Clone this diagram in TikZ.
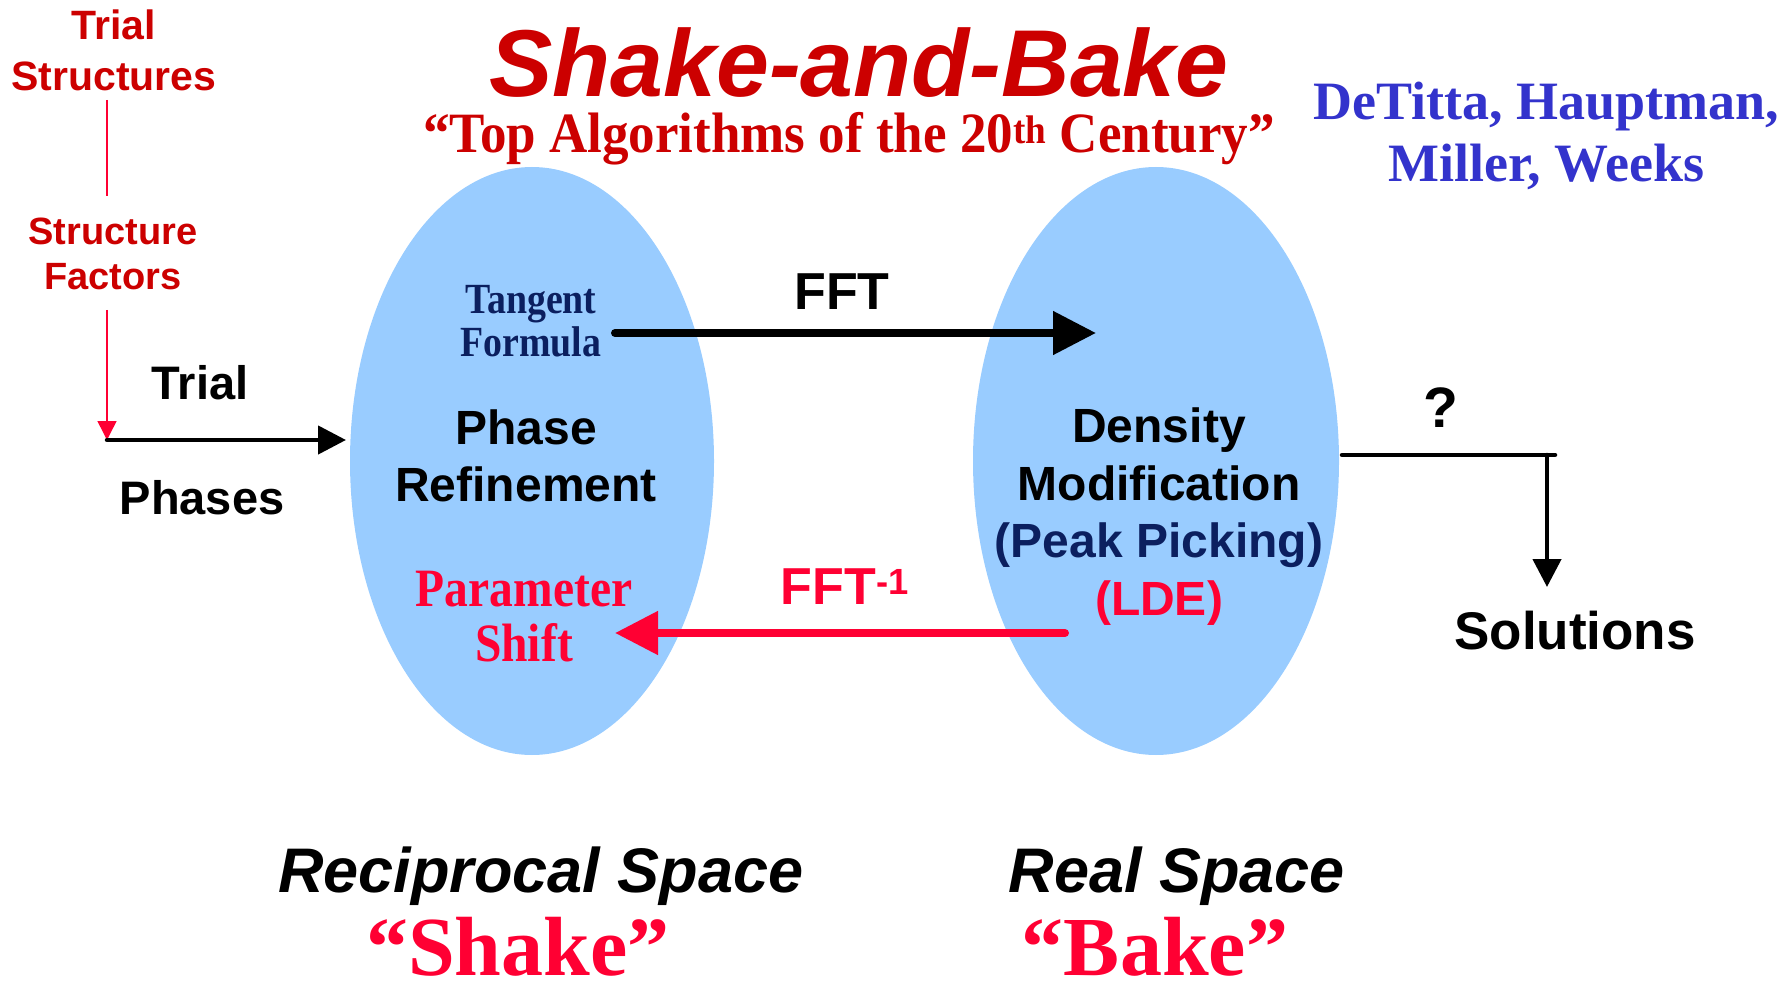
\documentclass[tikz,border=0pt]{standalone}
\usepackage{fontspec}
\setmainfont{Liberation Sans}
\newfontfamily\arialf{Liberation Sans}
\newfontfamily\tnrf{Liberation Serif}
\newfontfamily\tnrcf[FakeStretch=0.88]{Liberation Serif}
\newfontfamily\tnrsf[FakeStretch=0.93]{Liberation Serif}
\usetikzlibrary{shapes.geometric,arrows.meta}
\definecolor{titlered}{HTML}{CC0000}
\definecolor{brightred}{HTML}{FF0033}
\definecolor{authblue}{HTML}{3333CC}
\definecolor{navy}{HTML}{0B1F5F}
\definecolor{ellblue}{HTML}{99CCFF}
\newcommand\fsz[2]{\fontsize{#1}{#2}\selectfont}
\begin{document}
\begin{tikzpicture}[x=1pt,y=-1pt,
  lbl/.style={anchor=base,inner sep=0pt,align=center},
  blob/.style={ellipse,draw=none,fill=ellblue,minimum width=364pt,minimum height=588pt,inner sep=0pt},
  thinred/.style={draw=brightred,line width=1.5pt},
  thinarrow/.style={thinred,-{Triangle[length=19pt,width=19pt]}},
  blackarrow/.style={draw=black,line width=4.5pt,line cap=round,-{Triangle[length=28pt,width=28pt]}},
  bigarrow/.style={line width=8pt,line cap=round,-{Triangle[length=43pt,width=42pt]}}
]
\useasboundingbox (0,0) rectangle (1786,984);

% ellipses
\node[blob] (L) at (532,461) {};
\node[blob,minimum width=366pt] (R) at (1156,461) {};

% title
\node[lbl,text=titlered,text depth=0pt,font=\arialf\bfseries\itshape\fsz{95}{100}] (title) at (859,97) {Shake-and-Bake};
\node[lbl,text=titlered,font=\tnrsf\bfseries\fsz{57}{57}] (sub) at (849,153) {“Top Algorithms of the 20\textsuperscript{th} Century”};
\node[lbl,text=authblue,font=\tnrf\bfseries\fsz{54}{62}] (auth) at (1546,182) {DeTitta, Hauptman,\\Miller, Weeks};

% left column
\node[lbl,text=titlered,font=\arialf\bfseries\fsz{41}{51}] (TS) at (114,91) {Trial\\Structures};
\node[lbl,text=titlered,font=\arialf\bfseries\fsz{38}{45}] (SF) at (113,290) {Structure\\Factors};
\coordinate (ts1) at (107,100);
\coordinate (ts2) at (107,196);
\coordinate (sf1) at (107,310);
\coordinate (tp) at (107,440);
\coordinate (tpend) at (346,440);
\draw[thinred] (ts1) -- (ts2);
\draw[thinarrow] (sf1) -- (tp);
\node[lbl,font=\arialf\bfseries\fsz{47}{47}] (trial) at (200,399) {Trial};
\node[lbl,font=\arialf\bfseries\fsz{47}{47}] (phases) at (202,514) {Phases};
\draw[blackarrow] (tp) -- (tpend);

% left ellipse text
\node[lbl,text=navy,font=\tnrcf\bfseries\fsz{43}{43.5}] (tan) at (531,356.5) {Tangent\\Formula};
\node[lbl,font=\arialf\bfseries\fsz{48}{57}] (PR) at (526,501) {Phase\\Refinement};
\node[lbl,text=brightred,font=\tnrcf\bfseries\fsz{54}{55}] (PS) at (524,661) {Parameter\\Shift};

% right ellipse text
\node[lbl,font=\arialf\bfseries\fsz{48}{57.5}] (DM) at (1159,615) {Density\\Modification\\\textcolor{navy}{(Peak Picking)}\\\textcolor{brightred}{(LDE)}};

% FFT arrows
\coordinate (f1) at (615,333);
\coordinate (f2) at (1096,333);
\coordinate (g1) at (1065,633);
\coordinate (g2) at (615,633);
\node[lbl,font=\arialf\bfseries\fsz{52}{52}] (fft) at (842,310) {FFT};
\draw[bigarrow,black] (f1) -- (f2);
\node[lbl,text=brightred,font=\arialf\bfseries\fsz{52}{52}] (ifft) at (845,604) {FFT\textsuperscript{-1}};
\draw[bigarrow,brightred] (g1) -- (g2);

% solutions
\coordinate (s1) at (1342,455);
\coordinate (s2) at (1555,455);
\coordinate (s3) at (1547,455);
\coordinate (s4) at (1547,587);
\node[lbl,font=\arialf\bfseries\fsz{57}{57}] (q) at (1441,427) {?};
\draw[line width=4.5pt,line cap=round] (s1) -- (s2);
\draw[blackarrow] (s3) -- (s4);
\node[lbl,font=\arialf\bfseries\fsz{53}{53}] (sol) at (1575,649) {Solutions};

% bottom
\node[lbl,font=\arialf\bfseries\itshape\fsz{63}{63}] (rs) at (541,892) {Reciprocal Space};
\node[lbl,text=brightred,text depth=0pt,font=\tnrf\bfseries\fsz{84}{84}] (shake) at (518,975) {“Shake”};
\node[lbl,font=\arialf\bfseries\itshape\fsz{63}{63}] (real) at (1177,892) {Real Space};
\node[lbl,text=brightred,text depth=0pt,font=\tnrf\bfseries\fsz{84}{84}] (bake) at (1155,975) {“Bake”};
\end{tikzpicture}
\end{document}
